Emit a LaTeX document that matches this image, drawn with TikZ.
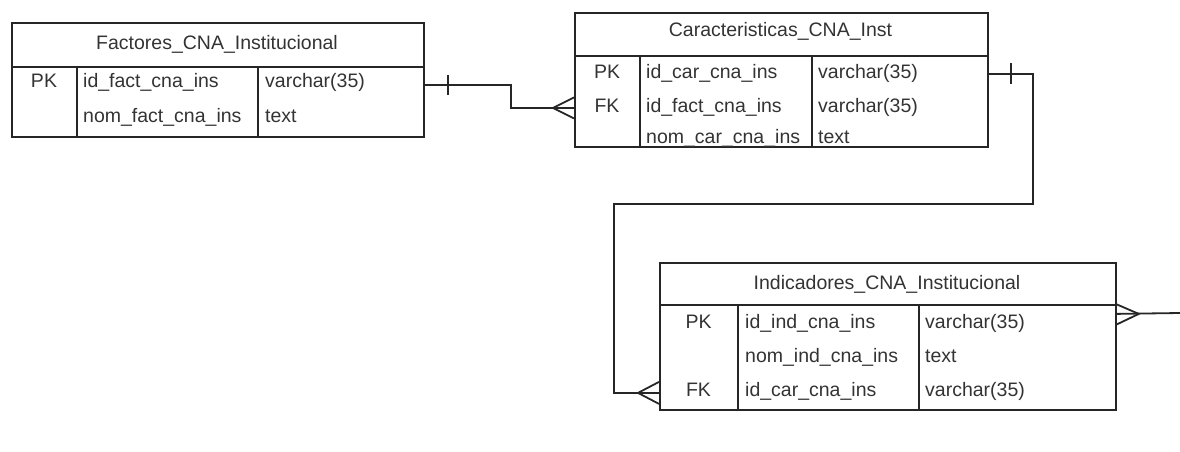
\documentclass[tikz,border=0pt]{standalone}
\usepackage{fontspec}
\setmainfont{Liberation Sans}
\usepackage{tikz}
\usetikzlibrary{positioning}

\tikzset{
  tbl/.style={draw=black!85, line width=1.8pt, inner sep=0pt, anchor=north west},
  txt/.style={inner sep=0pt, text=black!80, font=\fontsize{19.5}{22}\selectfont},
  lnk/.style={draw=black!85, line width=1.8pt},
}

\begin{document}
\begin{tikzpicture}[x=1pt,y=-1pt]
 \useasboundingbox (0,0) rectangle (1180,452);

    %Factores
    \node[tbl, minimum width=412pt, minimum height=44pt] (facthead) at (11,22) {};
    \node[tbl, minimum width=412pt, minimum height=70pt] (factbody) at (11,66) {};
    \draw[lnk] ([xshift=66pt]factbody.north west) -- ([xshift=66pt]factbody.south west);
    \draw[lnk] ([xshift=247pt]factbody.north west) -- ([xshift=247pt]factbody.south west);
    \node[txt, anchor=base] (facttitle) at (217,49) {Factores\_CNA\_Institucional};
    \node[txt, anchor=base] (factpk) at (44,87) {PK};
    \node[txt, anchor=base west] (factid) at (83,87) {id\_fact\_cna\_ins};
    \node[txt, anchor=base west] (factidtype) at (265,87) {varchar(35)};
    \node[txt, anchor=base west] (factnom) at (83,122) {nom\_fact\_cna\_ins};
    \node[txt, anchor=base west] (factnomtype) at (265,122) {text};

    %Caracteristicas
    \node[tbl, minimum width=413pt, minimum height=43pt] (carhead) at (574,12) {};
    \node[tbl, minimum width=413pt, minimum height=91pt] (carbody) at (574,55) {};
    \draw[lnk] ([xshift=66pt]carbody.north west) -- ([xshift=66pt]carbody.south west);
    \draw[lnk] ([xshift=238pt]carbody.north west) -- ([xshift=238pt]carbody.south west);
    \node[txt, anchor=base] (cartitle) at (780.5,37) {Caracteristicas\_CNA\_Inst};
    \node[txt, anchor=base] (carpk) at (607,78) {PK};
    \node[txt, anchor=base west] (carid) at (646,78) {id\_car\_cna\_ins};
    \node[txt, anchor=base west] (caridtype) at (818,78) {varchar(35)};
    \node[txt, anchor=base] (carfk) at (607,112) {FK};
    \node[txt, anchor=base west] (carfact) at (646,112) {id\_fact\_cna\_ins};
    \node[txt, anchor=base west] (carfacttype) at (818,112) {varchar(35)};
    \node[txt, anchor=base west] (carnom) at (646,143) {nom\_car\_cna\_ins};
    \node[txt, anchor=base west] (carnomtype) at (818,143) {text};

    %Indicadores
    \node[tbl, minimum width=456pt, minimum height=42pt] (indhead) at (659,262) {};
    \node[tbl, minimum width=456pt, minimum height=105pt] (indbody) at (659,304) {};
    \draw[lnk] ([xshift=79pt]indbody.north west) -- ([xshift=79pt]indbody.south west);
    \draw[lnk] ([xshift=260pt]indbody.north west) -- ([xshift=260pt]indbody.south west);
    \node[txt, anchor=base] (indtitle) at (887,289) {Indicadores\_CNA\_Institucional};
    \node[txt, anchor=base] (indpk) at (698.5,328) {PK};
    \node[txt, anchor=base west] (indid) at (745,328) {id\_ind\_cna\_ins};
    \node[txt, anchor=base west] (indidtype) at (925,328) {varchar(35)};
    \node[txt, anchor=base west] (indnom) at (745,362) {nom\_ind\_cna\_ins};
    \node[txt, anchor=base west] (indnomtype) at (925,362) {text};
    \node[txt, anchor=base] (indfk) at (698.5,396) {FK};
    \node[txt, anchor=base west] (indcar) at (745,396) {id\_car\_cna\_ins};
    \node[txt, anchor=base west] (indcartype) at (925,396) {varchar(35)};

    % Connectors
    \coordinate (factout) at ([yshift=17pt]factbody.east);
    \coordinate (carin) at ([yshift=-6.5pt]carbody.west);
    \coordinate (carout) at ([yshift=27.5pt]carbody.east);
    \coordinate (indin) at ([yshift=-35.5pt]indbody.west);
    \coordinate (indout) at ([yshift=43.5pt]indbody.east);
    \coordinate (bend) at (614,204);
    \coordinate (edge) at (1180,313);

    \draw[lnk] (factout) -- ++(86,0) |- (carin);
    \draw[lnk] (carout) -- ++(44,0) |- (bend) |- (indin);
    \draw[lnk] (indout) -- (edge);

    % ends
    \draw[lnk] (factout) ++(23,-10) -- ++(0,20);
    \draw[lnk] (carout) ++(22,-10.5) -- ++(0,21);
    \draw[lnk] (carin) ++(0,-10.5) -- ++(-21,10.5) -- ++(21,10.5);
    \draw[lnk] (indin) ++(0,-11) -- ++(-21,11) -- ++(21,11);
    \draw[lnk] (indout) ++(0,-9.5) -- ++(22,9.5) -- ++(-22,10.5);
\end{tikzpicture}
\end{document}
